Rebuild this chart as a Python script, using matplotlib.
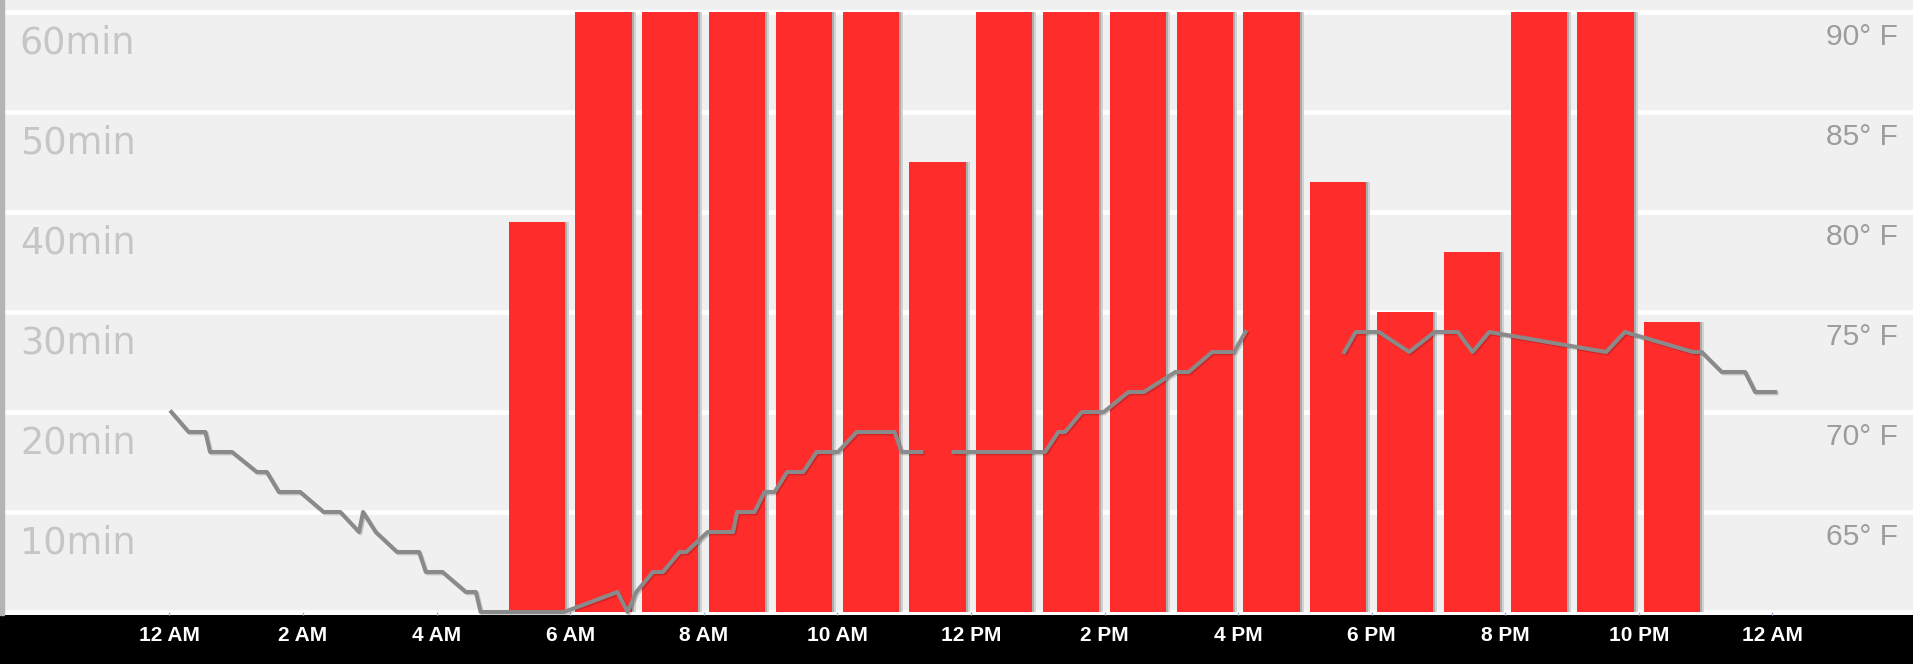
import numpy as np
import matplotlib
matplotlib.use("Agg")
import matplotlib.pyplot as plt
import matplotlib.patheffects as pe
from matplotlib.patches import Rectangle

# minutes per hour (bar starts at the hour)
bar_hours = [5, 6, 7, 8, 9, 10, 11, 12, 13, 14, 15, 16, 17, 18, 19, 20, 21, 22]
bar_minutes = [39, 60, 60, 60, 60, 60, 45, 60, 60, 60, 60, 60, 43, 30, 36, 60, 60, 29]

# temperature readings (hour of day, deg F); nan = gap in data
temp_hours = [0.03, 0.29, 0.54, 0.61, 0.94, 1.31, 1.46, 1.64, 1.96, 2.31, 2.56, 2.84,
              2.90, 3.09, 3.41, 3.74, 3.84, 4.09, 4.44, 4.59, 4.66, 5.91, 6.71, 6.86,
              6.99, 7.24, 7.39, 7.64, 7.74, 8.06, 8.44, 8.50, 8.76, 8.91, 9.06, 9.25,
              9.49, 9.69, 10.01, 10.29, 10.86, 10.96, 11.26, np.nan,
              11.74, 13.11, 13.31, 13.41, 13.66, 13.99, 14.36, 14.59, 15.06, 15.26,
              15.61, 15.94, 16.11, np.nan,
              17.59, 17.76, 18.11, 18.56, 18.94, 19.29, 19.51, 19.76, 21.51, 21.79,
              22.81, 22.94, 23.24, 23.59, 23.74, 24.04]
temp_f = [70, 69, 69, 68, 68, 67, 67, 66, 66, 65, 65, 64,
          65, 64, 63, 63, 62, 62, 61, 61, 60, 60, 61, 60,
          61, 62, 62, 63, 63, 64, 64, 65, 65, 66, 66, 67,
          67, 68, 68, 69, 69, 68, 68, np.nan,
          68, 68, 69, 69, 70, 70, 71, 71, 72, 72,
          73, 73, 74, np.nan,
          73, 74, 74, 73, 74, 74, 73, 74, 73, 74,
          73, 73, 72, 72, 71, 71]

min_ticks = [10, 20, 30, 40, 50, 60]
min_labels = ["10min", "20min", "30min", "40min", "50min", "60min"]
temp_ticks = [65, 70, 75, 80, 85, 90]
temp_labels = ["65° F", "70° F", "75° F", "80° F", "85° F", "90° F"]
x_ticks = [0, 2, 4, 6, 8, 10, 12, 14, 16, 18, 20, 22, 24]
x_labels = ["12 AM", "2 AM", "4 AM", "6 AM", "8 AM", "10 AM", "12 PM",
            "2 PM", "4 PM", "6 PM", "8 PM", "10 PM", "12 AM"]

W, H = 1913, 664
fig = plt.figure(figsize=(W / 100, H / 100), dpi=100, facecolor="black")
ax = fig.add_axes([4 / W, 49 / H, 1909 / W, 615 / H])
ax.set_facecolor("#f0f0f0")
fig.patches.append(Rectangle((0, 49 / H), 4 / W, 615 / H, transform=fig.transFigure,
                             color="#b4b4b4", zorder=0))

px_per_hour = 66.8
ax.set_xlim(-165.3 / px_per_hour, (1909 - 165.3) / px_per_hour)
ax.set_ylim(-0.3, 61.2)

# white gridlines behind the bars
for v in [0] + min_ticks:
    ax.axhline(v, color="white", lw=3.4, zorder=1)

centers = np.array(bar_hours) + 0.5
width = 0.84
ax.bar(centers + 0.06, bar_minutes, width=width, color="#d2d2d2", zorder=2)
ax.bar(centers + 0.03, bar_minutes, width=width, color="#acacac", zorder=2)
ax.bar(centers, bar_minutes, width=width, color="#ff2c2c", zorder=3)

# temperature on a twin scale: 60..90 F spans 0..60 min
ax2 = ax.twinx()
ax2.set_ylim(60 - 0.15, 60 + 61.2 / 2)
ax2.plot(temp_hours, temp_f, color="#8a8a8a", lw=2.9, zorder=5,
         path_effects=[pe.SimpleLineShadow(offset=(1, -1), shadow_color="black", alpha=0.18),
                       pe.Normal()])

for a in (ax, ax2):
    a.set_yticks([])
    for s in a.spines.values():
        s.set_visible(False)
ax2.set_xlim(ax.get_xlim())

ax.set_xticks(x_ticks)
ax.set_xticklabels(x_labels, fontfamily="Liberation Sans", fontweight="bold",
                   fontsize=15, color="white")
ax.tick_params(axis="x", direction="in", length=2.5, width=1, color="#a8b8d8", pad=8)

ytr = ax.get_yaxis_transform()
for v, lab in zip(min_ticks, min_labels):
    ax.text(16 / 1909, v - 4.13, lab, transform=ytr, ha="left", va="baseline",
            fontfamily="DejaVu Sans", fontsize=26.4, color="#c6c6c6", zorder=6)

ytr2 = ax2.get_yaxis_transform()
for v, lab in zip(temp_ticks, temp_labels):
    ax2.text(1894 / 1909, v - 1.65, lab, transform=ytr2, ha="right", va="baseline",
             fontfamily="Liberation Sans", fontsize=21.6, color="#9c9c9c", zorder=6)

fig.savefig("out.png", dpi=100, facecolor=fig.get_facecolor())
